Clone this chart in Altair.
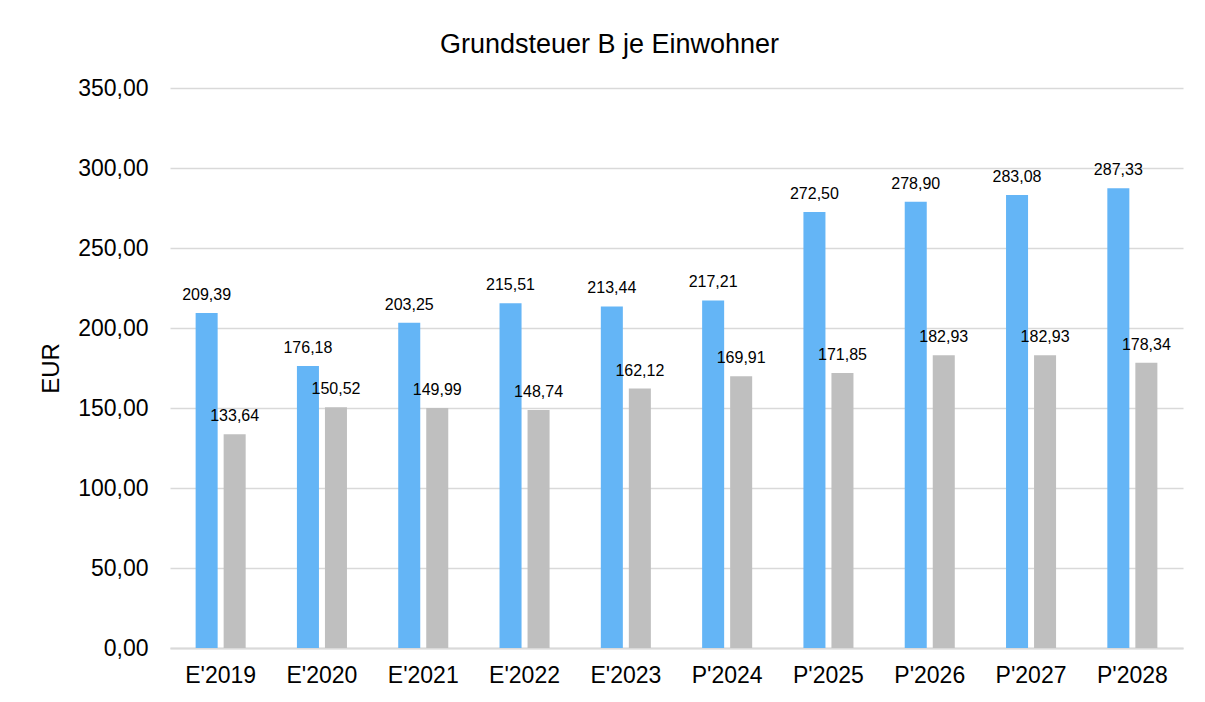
import altair as alt
import pandas as pd

categories = ["E'2019", "E'2020", "E'2021", "E'2022", "E'2023",
              "P'2024", "P'2025", "P'2026", "P'2027", "P'2028"]
series_a = [209.39, 176.18, 203.25, 215.51, 213.44, 217.21, 272.50, 278.90, 283.08, 287.33]
series_b = [133.64, 150.52, 149.99, 148.74, 162.12, 169.91, 171.85, 182.93, 182.93, 178.34]
series_names = ["Gemeinde", "Vergleich"]
colors = ["#64B5F6", "#BFBFBF"]

rows = []
for c, a, b in zip(categories, series_a, series_b):
    rows.append({"Jahr": c, "Reihe": series_names[0], "Wert": a})
    rows.append({"Jahr": c, "Reihe": series_names[1], "Wert": b})
df = pd.DataFrame(rows)

FONT = "Liberation Sans"

base = alt.Chart(df).encode(
    x=alt.X("Jahr:N", sort=categories,
            scale=alt.Scale(paddingInner=0.506, paddingOuter=0.253),
            axis=alt.Axis(title=None, labelAngle=0, labelFontSize=23, labelColor="#000000",
                          labelFont=FONT, ticks=False, labelPadding=16,
                          domain=True, domainColor="#D9D9D9", domainWidth=2, grid=False)),
    xOffset=alt.XOffset("Reihe:N", sort=series_names,
                        scale=alt.Scale(paddingInner=0.214, paddingOuter=0)),
)

bars = base.mark_bar().encode(
    y=alt.Y("Wert:Q", scale=alt.Scale(domain=[0, 350], nice=False),
            axis=alt.Axis(title="EUR", values=[0, 50, 100, 150, 200, 250, 300, 350],
                          labelExpr="replace(format(datum.value, '.2f'), '.', ',')",
                          labelFontSize=23, labelFont=FONT, labelColor="#000000",
                          titleFontSize=24, titleFont=FONT, titleFontWeight="normal",
                          titleColor="#000000", titlePadding=14,
                          ticks=False, domain=False, labelPadding=22,
                          grid=True, gridColor="#D9D9D9", gridWidth=1.5)),
    color=alt.Color("Reihe:N", sort=series_names,
                    scale=alt.Scale(domain=series_names, range=colors), legend=None),
)

labels = base.mark_text(fontSize=16, font=FONT, color="#000000", baseline="alphabetic",
                        dy=-13).encode(
    y=alt.Y("Wert:Q"),
    text=alt.Text("label:N"),
).transform_calculate(label="replace(format(datum.Wert, '.2f'), '.', ',')")

chart = alt.layer(bars, labels).properties(
    width=1013, height=560,
    title=alt.TitleParams("Grundsteuer B je Einwohner", fontSize=27, font=FONT,
                          fontWeight="normal", color="#000000", offset=18, dx=-67),
    autosize=alt.AutoSizeParams(type="none"),
    padding={"left": 162, "top": 80, "right": 10, "bottom": 40},
).configure_view(stroke=None)

chart.save("out.html", embed_options={"renderer": "svg", "actions": False})
